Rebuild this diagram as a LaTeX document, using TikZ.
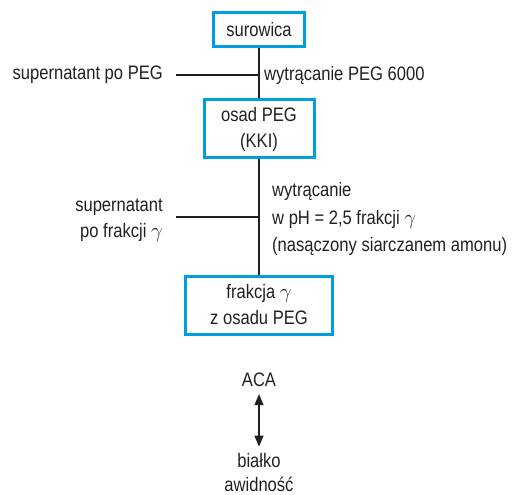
\documentclass[tikz,border=0pt]{standalone}
\usepackage{fontspec}
\setmainfont[FakeStretch=0.85]{Liberation Sans}
\usetikzlibrary{arrows.meta}
\definecolor{boxblue}{RGB}{0,158,224}
\definecolor{ink}{RGB}{35,31,32}
\begin{document}
\begin{tikzpicture}[x=1pt,y=-1pt,
  every node/.style={font=\fontsize{19.5}{26}\selectfont, text=ink},
  stepbox/.style={draw=boxblue, line width=3pt, inner sep=0pt, align=center},
  conn/.style={draw=ink, line width=1.2pt},
  lefttxt/.style={anchor=east, align=right, inner xsep=13pt, inner ysep=0pt},
  righttxt/.style={anchor=west, align=left, inner xsep=5pt, inner ysep=0pt}]
\useasboundingbox (0,0) rectangle (515,495);
\node[stepbox, minimum width=91pt, minimum height=34pt] (b1) at (259,30) {surowica};
\node[stepbox, minimum width=110pt, minimum height=58pt] (b2) at (259,129) {osad PEG\\(KKI)};
\node[stepbox, minimum width=147pt, minimum height=58pt] (b3) at (259,305) {frakcja $\gamma$\\z osadu PEG};
\coordinate (j1) at (259,75);
\coordinate (j2) at (259,217);
\node[lefttxt] (l1) at (176,75) {supernatant po PEG};
\node[righttxt] (r1) at (259,75) {wytrącanie PEG 6000};
\node[lefttxt] (l2) at (176,220) {supernatant\\po frakcji $\gamma$};
\node[righttxt, inner xsep=13pt, font=\fontsize{19.5}{27.5}\selectfont] (r2) at (259,219) {wytrącanie\\w pH = 2,5 frakcji $\gamma$\\(nasączony siarczanem amonu)};
\draw[conn] (b1.south) -- (b2.north);
\draw[conn] (b2.south) -- (b3.north);
\draw[conn] (l1.east) -- (j1);
\draw[conn] (l2.east |- j2) -- (j2);
\node[inner sep=0pt] (aca) at (259,380) {ACA};
\node[align=center, inner sep=0pt, font=\fontsize{19.5}{24}\selectfont] (bia) at (259,473) {białko\\awidność};
\draw[conn, {Triangle[width=9pt,length=11pt]}-{Triangle[width=9pt,length=11pt]}] ([yshift=-7pt]aca.south) -- ([yshift=7pt]bia.north);
\end{tikzpicture}
\end{document}
